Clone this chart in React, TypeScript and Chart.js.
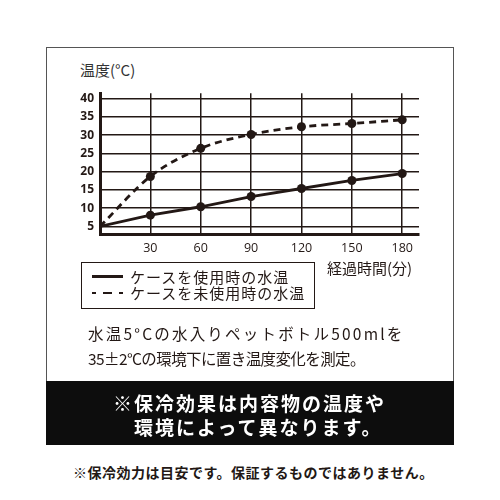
import React, { useEffect, useRef } from "react";
import { Chart, registerables } from "chart.js";

Chart.register(...registerables);

const minutes = [0, 30, 60, 90, 120, 150, 180];
const withCase = [5, 8.1, 10.4, 13.2, 15.4, 17.6, 19.5];
const withoutCase = [5, 18.7, 26.4, 30.2, 32.3, 33.2, 34.2];
const xTicks = [30, 60, 90, 120, 150, 180];
const yTicks = [5, 10, 15, 20, 25, 30, 35, 40];
const seriesLabels = ["ケースを使用時の水温", "ケースを未使用時の水温"];
const yTitle = "温度(°C)";
const xTitle = "経過時間(分)";
const noteLines = ["水温5°Cの水入りペットボトル500mlを", "35±2°Cの環境下に置き温度変化を測定。"];
const bannerLines = ["※保冷効果は内容物の温度や", "環境によって異なります。"];
const footNote = "※保冷効力は目安です。保証するものではありません。";

const INK = "#231815";
const JP = '"Noto Sans CJK JP", "Noto Sans", sans-serif';

export default function App() {
  const canvasRef = useRef<HTMLCanvasElement | null>(null);

  useEffect(() => {
    const canvas = canvasRef.current;
    if (!canvas) return;
    const pointRadii = minutes.map((m) => (m === 0 ? 0 : 4.5));
    const chart = new Chart(canvas, {
      type: "line",
      data: {
        datasets: [
          {
            label: seriesLabels[0],
            data: minutes.map((m, i) => ({ x: m, y: withCase[i] })),
            borderColor: INK,
            backgroundColor: INK,
            borderWidth: 2.8,
            pointRadius: pointRadii,
            pointBorderWidth: 0,
            pointBackgroundColor: INK,
            tension: 0,
          },
          {
            label: seriesLabels[1],
            data: minutes.map((m, i) => ({ x: m, y: withoutCase[i] })),
            borderColor: INK,
            backgroundColor: INK,
            borderWidth: 2.8,
            borderDash: [7, 5],
            pointRadius: pointRadii,
            pointBorderWidth: 0,
            pointBackgroundColor: INK,
            cubicInterpolationMode: "monotone",
          },
        ],
      },
      options: {
        animation: false,
        responsive: false,
        maintainAspectRatio: false,
        layout: { padding: { top: 5, right: 11, left: 0, bottom: 0 } },
        plugins: { legend: { display: false }, tooltip: { enabled: false } },
        scales: {
          x: {
            type: "linear",
            min: 0,
            max: 190,
            afterBuildTicks: (scale: any) => {
              scale.ticks = xTicks.map((v) => ({ value: v }));
            },
            afterFit: (scale: any) => {
              scale.height = 25.5;
            },
            grid: { color: INK, lineWidth: 1.5, drawTicks: false },
            border: { display: true, color: INK, width: 3 },
            ticks: {
              color: INK,
              padding: 6,
              font: { family: '"Open Sans", sans-serif', size: 12.5, weight: 500 as any },
              maxRotation: 0,
            },
          },
          y: {
            min: 2.8,
            max: 41.5,
            afterBuildTicks: (scale: any) => {
              scale.ticks = yTicks.map((v) => ({ value: v }));
            },
            afterFit: (scale: any) => {
              scale.width = 40;
            },
            grid: { color: INK, lineWidth: 1.5, drawTicks: false },
            border: { display: true, color: INK, width: 3 },
            ticks: {
              color: INK,
              padding: 6,
              font: { family: '"Open Sans", sans-serif', size: 12, weight: "bold" },
            },
          },
        },
      },
    });
    return () => chart.destroy();
  }, []);

  const abs = (style: React.CSSProperties): React.CSSProperties => ({ position: "absolute", ...style });

  return (
    <div style={{ position: "fixed", left: 0, top: 0, width: 500, height: 500, background: "#fff", fontFamily: JP, color: INK }}>
      {/* outer frame */}
      <div style={abs({ left: 46, top: 47, width: 408, height: 334, border: "1.5px solid #555", borderBottom: "none", boxSizing: "border-box" })} />
      {/* y title */}
      <div style={abs({ left: 80, top: 60, height: 20, lineHeight: "20px", fontSize: 15, color: "#333", whiteSpace: "nowrap" })}>{yTitle}</div>
      <canvas ref={canvasRef} width={370} height={180} style={abs({ left: 60, top: 80, width: 370, height: 180 })} />
      {/* x title */}
      <div style={abs({ left: 327, top: 258, height: 20, lineHeight: "20px", fontSize: 15, whiteSpace: "nowrap" })}>{xTitle}</div>
      {/* legend */}
      <div style={abs({ left: 81, top: 262, width: 234, height: 47, border: "1.5px solid " + INK, boxSizing: "border-box" })} />
      <div style={abs({ left: 92, top: 275, width: 31, height: 2.8, background: INK })} />
      <div style={abs({ left: 92, top: 291.6, width: 4, height: 2.8, background: INK })} />
      <div style={abs({ left: 103, top: 291.6, width: 9, height: 2.8, background: INK })} />
      <div style={abs({ left: 119, top: 291.6, width: 4, height: 2.8, background: INK })} />
      <div style={abs({ left: 130, top: 267, height: 20, lineHeight: "20px", fontSize: 15, letterSpacing: 1, whiteSpace: "nowrap" })}>{seriesLabels[0]}</div>
      <div style={abs({ left: 130, top: 283, height: 20, lineHeight: "20px", fontSize: 15, letterSpacing: 1, whiteSpace: "nowrap" })}>{seriesLabels[1]}</div>
      {/* note */}
      <div style={abs({ left: 88, top: 322, height: 22, lineHeight: "22px", fontSize: 15.5, letterSpacing: 2.2, whiteSpace: "nowrap" })}>{noteLines[0]}</div>
      <div style={abs({ left: 88, top: 347, height: 22, lineHeight: "22px", fontSize: 15.5, letterSpacing: -0.6, whiteSpace: "nowrap" })}>{noteLines[1]}</div>
      {/* banner */}
      <div style={abs({ left: 46, top: 381, width: 408, height: 64, background: "#0d0d0d" })} />
      <div style={abs({ left: 113, top: 390, height: 26, lineHeight: "26px", fontSize: 19, fontWeight: 700, letterSpacing: 2, color: "#fff", whiteSpace: "nowrap" })}>{bannerLines[0]}</div>
      <div style={abs({ left: 134, top: 414, height: 26, lineHeight: "26px", fontSize: 19, fontWeight: 700, letterSpacing: 2, color: "#fff", whiteSpace: "nowrap" })}>{bannerLines[1]}</div>
      {/* footnote */}
      <div style={abs({ left: 73, top: 461, height: 22, lineHeight: "22px", fontSize: 14, fontWeight: 700, letterSpacing: 0.5, whiteSpace: "nowrap" })}>{footNote}</div>
    </div>
  );
}
